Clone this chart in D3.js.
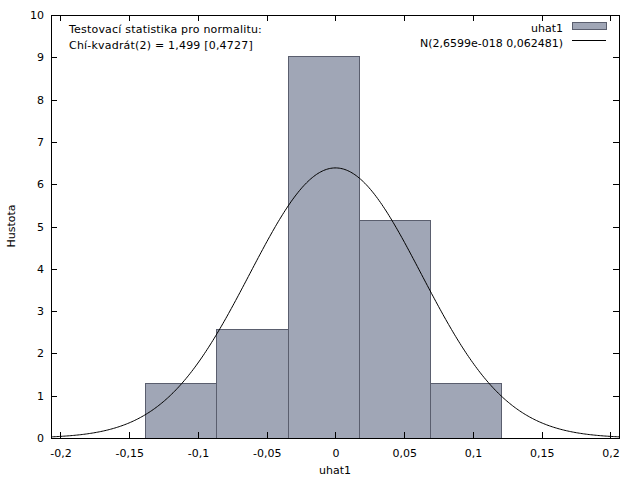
<!DOCTYPE html>
<html>
<head>
<meta charset="utf-8">
<script src="https://cdn.jsdelivr.net/npm/d3@7"></script>
<style>
  html, body { margin: 0; padding: 0; background: #fff; }
  svg { display: block; }
  text { font-family: "DejaVu Sans", Verdana, sans-serif; font-size: 11px; fill: #000; }
</style>
</head>
<body>
<svg id="chart" width="640" height="480"></svg>
<script>
// ---- data ----
const binEdges = [-0.1385, -0.0864, -0.0343, 0.0173, 0.0689, 0.1209];
const densities = [1.287, 2.574, 9.009, 5.148, 1.287];
const normMean = 2.6599e-18;
const normSd = 0.062481;
const xTicks = [-0.2, -0.15, -0.1, -0.05, 0, 0.05, 0.1, 0.15, 0.2];
const yTicks = [0, 1, 2, 3, 4, 5, 6, 7, 8, 9, 10];
const seriesNames = ["uhat1", "N(2,6599e-018 0,062481)"];
const statText = ["Testovací statistika pro normalitu:", "Chí-kvadrát(2) = 1,499 [0,4727]"];

const svg = d3.select("#chart");
const L = 51, R = 619, T = 15, B = 438;

const x = d3.scaleLinear().domain([-0.2069, 0.2062]).range([L, R]);
const y = d3.scaleLinear().domain([0, 10]).range([B, T]);
const fmt = d => String(d).replace(".", ",");

// bars
const bars = binEdges.slice(0, -1).map((e, i) => ({x0: e, x1: binEdges[i + 1], v: densities[i]}));
svg.append("g").selectAll("rect").data(bars).join("rect")
  .attr("x", d => x(d.x0))
  .attr("y", d => y(d.v))
  .attr("width", d => x(d.x1) - x(d.x0))
  .attr("height", d => y(0) - y(d.v))
  .attr("fill", "#a0a6b6")
  .attr("stroke", "#5a5e6e")
  .attr("stroke-width", 1)
  .attr("shape-rendering", "crispEdges");

// normal curve (density defined by the legend parameters)
const pdf = v => Math.exp(-0.5 * Math.pow((v - normMean) / normSd, 2)) / (normSd * Math.sqrt(2 * Math.PI));
const xs = d3.range(0, 401).map(i => -0.2069 + i * (0.2062 + 0.2069) / 400);
svg.append("path")
  .datum(xs)
  .attr("fill", "none")
  .attr("stroke", "#000")
  .attr("stroke-width", 1)
  .attr("d", d3.line().x(d => x(d)).y(d => y(pdf(d))));

// frame
svg.append("rect").attr("x", L).attr("y", T).attr("width", R - L).attr("height", B - T)
  .attr("fill", "none").attr("stroke", "#000").attr("shape-rendering", "crispEdges");

// axes (inward ticks)
const tl = 6;
const xb = svg.append("g").attr("transform", `translate(0,${B})`)
  .call(d3.axisBottom(x).tickValues(xTicks).tickFormat(fmt).tickSizeInner(-tl).tickSizeOuter(0).tickPadding(11));
const xt = svg.append("g").attr("transform", `translate(0,${T})`)
  .call(d3.axisTop(x).tickValues(xTicks).tickFormat("").tickSizeInner(-tl).tickSizeOuter(0));
const yl = svg.append("g").attr("transform", `translate(${L},0)`)
  .call(d3.axisLeft(y).tickValues(yTicks).tickFormat(d3.format("d")).tickSizeInner(-tl).tickSizeOuter(0).tickPadding(7));
const yr = svg.append("g").attr("transform", `translate(${R},0)`)
  .call(d3.axisRight(y).tickValues(yTicks).tickFormat("").tickSizeInner(-tl).tickSizeOuter(0));
[xb, xt, yl, yr].forEach(g => {
  g.select(".domain").remove();
  g.selectAll("line").attr("stroke", "#000").attr("shape-rendering", "crispEdges");
  g.selectAll("text").attr("font-family", "DejaVu Sans, Verdana, sans-serif").attr("font-size", 11).attr("fill", "#000");
});
xb.selectAll("text").attr("y", 0).attr("dy", 0).attr("transform", "translate(0,19)");

// axis labels
svg.append("text").attr("x", 335).attr("y", 474).attr("text-anchor", "middle").text("uhat1");
svg.append("text").attr("transform", "translate(15,226) rotate(-90)").attr("text-anchor", "middle").text("Hustota");

// stats text
svg.selectAll("text.stat").data(statText).join("text").attr("class", "stat")
  .attr("x", 69).attr("y", (d, i) => 32.5 + i * 16).attr("letter-spacing", 0.2).text(d => d);

// legend
svg.append("text").attr("x", 563).attr("y", 31.5).attr("text-anchor", "end").text(seriesNames[0]);
svg.append("text").attr("x", 563).attr("y", 46.5).attr("text-anchor", "end").text(seriesNames[1]);
svg.append("rect").attr("x", 572).attr("y", 22.5).attr("width", 34).attr("height", 6.5)
  .attr("fill", "#a0a6b6").attr("stroke", "#5a5e6e").attr("shape-rendering", "crispEdges");
svg.append("line").attr("x1", 572).attr("x2", 606).attr("y1", 40.5).attr("y2", 40.5).attr("stroke", "#000");
</script>
</body>
</html>
